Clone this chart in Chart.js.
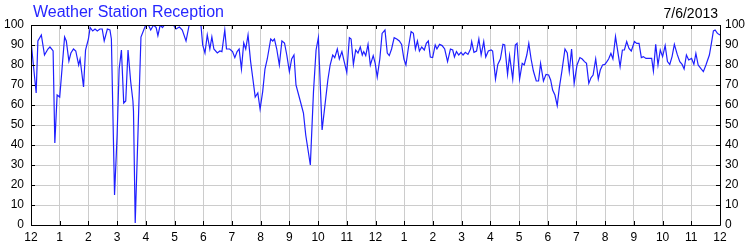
<!DOCTYPE html>
<html>
<head>
<meta charset="utf-8">
<script src="https://cdn.jsdelivr.net/npm/chart.js@4.4.0/dist/chart.umd.min.js"></script>
<style>
  body { margin: 0; background: #fff; }
  canvas { display: block; }
</style>
</head>
<body>
<canvas id="chart" width="750" height="250"></canvas>
<script>
// time of day in hours (0 = midnight)
const hours = [
  0.00, 0.18, 0.24, 0.36, 0.47, 0.59, 0.66, 0.75, 0.77, 0.83, 0.91, 1.00, 1.08, 1.17, 1.23, 1.32, 1.39, 1.48, 1.56, 1.66, 1.71, 1.83, 1.90,
  2.00, 2.06, 2.15, 2.23, 2.31, 2.40, 2.48, 2.55, 2.66, 2.75, 2.80, 2.91, 3.00, 3.07, 3.15, 3.23, 3.30, 3.38, 3.47, 3.55, 3.57, 3.63, 3.83, 3.94,
  4.00, 4.09, 4.17, 4.27, 4.36, 4.42, 4.50, 4.58, 4.65, 4.96, 5.05, 5.17, 5.27, 5.40, 5.51, 5.92, 5.98,
  6.06, 6.14, 6.23, 6.30, 6.37, 6.49, 6.58, 6.65, 6.75, 6.81, 6.92, 7.02, 7.10, 7.18, 7.25, 7.33, 7.41, 7.48, 7.56, 7.65, 7.72, 7.81, 7.90, 7.98,
  8.07, 8.15, 8.23, 8.35, 8.42, 8.48, 8.56, 8.65, 8.74, 8.83, 8.91, 9.00, 9.08, 9.16, 9.23, 9.37, 9.49, 9.57, 9.65, 9.73, 9.84, 9.93,
  10.01, 10.14, 10.24, 10.34, 10.42, 10.51, 10.58, 10.67, 10.74, 10.83, 10.91, 11.00, 11.09, 11.15, 11.23, 11.31, 11.39, 11.47, 11.54, 11.59, 11.66, 11.74, 11.82, 11.92, 11.99,
  12.06, 12.15, 12.23, 12.33, 12.41, 12.48, 12.56, 12.65, 12.74, 12.83, 12.91, 12.99, 13.06, 13.15, 13.24, 13.32, 13.39, 13.46, 13.53, 13.61, 13.70, 13.77, 13.84, 13.91, 13.99,
  14.08, 14.14, 14.23, 14.32, 14.41, 14.51, 14.61, 14.69, 14.75, 14.82, 14.90, 14.98, 15.05, 15.13, 15.22, 15.31, 15.35, 15.43, 15.52, 15.60, 15.68, 15.77, 15.84, 15.93,
  16.03, 16.08, 16.18, 16.26, 16.35, 16.44, 16.50, 16.60, 16.67, 16.78, 16.87, 16.93, 17.02, 17.11, 17.18, 17.27, 17.34, 17.42, 17.50, 17.60, 17.68, 17.75, 17.85, 17.94,
  18.03, 18.10, 18.17, 18.25, 18.33, 18.40, 18.49, 18.60, 18.68, 18.75, 18.83, 18.92, 19.02, 19.12, 19.20, 19.28, 19.35, 19.43, 19.51, 19.58, 19.67, 19.76, 19.83, 19.91, 19.99,
  20.06, 20.12, 20.20, 20.27, 20.36, 20.44, 20.52, 20.60, 20.67, 20.75, 20.83, 20.91, 21.02, 21.10, 21.18, 21.26, 21.33, 21.42, 21.51, 21.62, 21.68, 21.76, 21.84, 21.92,
  22.00, 22.09, 22.17, 22.25, 22.33, 22.41, 22.51, 22.60, 22.68, 22.75, 22.83, 22.91, 23.01, 23.09, 23.16, 23.24, 23.33, 23.42, 23.51, 23.63, 23.71, 23.77, 23.83, 23.91, 24.00
];

// reception in percent
const reception = [
  92, 66, 92, 95, 85, 88, 89, 87.5, 87, 41, 65, 64, 78, 94, 92, 82, 86, 88, 87, 80, 83, 69, 87.5,
  93, 98.7, 97, 98, 97, 98, 98, 92, 98, 97.5, 93, 15, 45, 78, 87.5, 61, 62, 87.5, 72, 62, 57, 1, 94, 98,
  100, 100, 97.5, 100, 98.7, 94.7, 100, 98.7, 100, 100, 98, 99, 97.5, 92, 100, 100, 90,
  86, 95, 88, 94, 88, 86, 87, 86.7, 97.5, 88, 88, 86.7, 83.7, 86.7, 88, 78, 91, 88, 95, 81.7, 74, 64, 66, 58,
  66.7, 78, 83, 93, 92, 93, 88, 80, 92, 91, 85, 76.7, 83, 85, 70, 62.5, 56, 45, 37.5, 30, 66.7, 87.5,
  93.7, 47.5, 60, 72.5, 80, 85, 83.7, 88, 83, 86.7, 81.7, 76.3, 93.7, 93, 80.3, 87.5, 86, 89, 85, 86.7, 84.7, 90.3, 80, 84.7, 80.8,
  74, 83, 95.8, 97.5, 86, 84.7, 88, 93.7, 93, 92, 90.3, 83, 80, 89, 96.7, 95.8, 88, 92, 87, 89, 87.5, 90.8, 92, 84, 83.7,
  90, 88, 90.3, 89.7, 88, 81.7, 88, 87.5, 84, 86.7, 85, 86.3, 85, 86.3, 85.3, 88, 91.7, 86.3, 87, 93, 85, 91.7, 84, 87,
  87.5, 87, 73, 80.3, 83, 90.3, 90, 75.3, 84.7, 73, 90, 90.8, 73, 80.8, 80, 85, 90.8, 83, 77, 72, 72, 80.8, 72, 75.3,
  75, 72.5, 67.5, 65, 59.7, 68.3, 76.7, 88, 86, 76.7, 88, 70.8, 80, 83.7, 83, 81.7, 80.8, 70.8, 73.7, 75, 83, 73, 77.5, 80, 80.3,
  81.7, 83, 85.8, 83, 94.2, 86.7, 79.2, 87.5, 87.5, 91.7, 88.3, 87, 91.7, 90.8, 90.8, 83.7, 84.2, 83.3, 83.3, 83.3, 77, 90.3, 80, 87.5,
  84.2, 89.7, 81.7, 80.3, 84.2, 90.3, 85.3, 81.7, 80.3, 78, 85, 82.5, 83.3, 80.3, 85.8, 80, 78.3, 76.7, 80, 85, 91.7, 97, 97.5, 95.8, 95
];

// x tick labels, one per hour
const hourLabels = ["12","1","2","3","4","5","6","7","8","9","10","11","12","1","2","3","4","5","6","7","8","9","10","11","12"];

const titleText = "Weather Station Reception";
const dateText = "7/6/2013";

const font = { family: "'Liberation Sans', Arial, sans-serif", size: 12 };

// frame, inward ticks and the two header texts
const framePlugin = {
  id: "frame",
  afterDraw(chart) {
    const ctx = chart.ctx;
    const a = chart.chartArea;
    const xs = chart.scales.x;
    const ys = chart.scales.y;
    ctx.save();
    ctx.strokeStyle = "#000";
    ctx.lineWidth = 1;
    ctx.beginPath();
    ctx.rect(Math.round(a.left) + 0.5, Math.round(a.top) + 0.5, Math.round(a.right - a.left), Math.round(a.bottom - a.top));
    for (let h = 0; h <= 24; h++) {
      const px = Math.round(xs.getPixelForValue(h)) + 0.5;
      ctx.moveTo(px, a.bottom);
      ctx.lineTo(px, a.bottom - 4);
      ctx.moveTo(px, a.top);
      ctx.lineTo(px, a.top + 4);
    }
    for (let v = 0; v <= 100; v += 10) {
      const py = Math.round(ys.getPixelForValue(v)) + 0.5;
      ctx.moveTo(a.left, py);
      ctx.lineTo(a.left + 4, py);
      ctx.moveTo(a.right, py);
      ctx.lineTo(a.right - 4, py);
    }
    ctx.stroke();

    ctx.textBaseline = "alphabetic";
    ctx.fillStyle = "#2626ff";
    ctx.font = "16px 'Liberation Sans', Arial, sans-serif";
    ctx.textAlign = "left";
    ctx.fillText(titleText, 33, 17);
    ctx.fillStyle = "#000";
    ctx.font = "14px 'Liberation Sans', Arial, sans-serif";
    ctx.textAlign = "right";
    ctx.fillText(dateText, 718, 18);
    ctx.restore();
  }
};

new Chart(document.getElementById("chart"), {
  type: "line",
  data: {
    datasets: [{
      label: titleText,
      data: hours.map((h, i) => ({ x: h, y: reception[i] })),
      borderColor: "#1f1fff",
      borderWidth: 1.2,
      pointRadius: 0,
      tension: 0,
      fill: false
    }]
  },
  options: {
    responsive: false,
    animation: false,
    devicePixelRatio: 1,
    layout: { padding: { top: 25, left: 0, right: 0, bottom: 0 } },
    plugins: {
      legend: { display: false },
      title: { display: false },
      tooltip: { enabled: false }
    },
    scales: {
      x: {
        type: "linear",
        min: 0,
        max: 24,
        afterFit: (s) => { s.height = 25; },
        ticks: {
          stepSize: 1,
          autoSkip: false,
          maxRotation: 0,
          padding: 5,
          color: "#000",
          font: font,
          callback: (v) => hourLabels[v]
        },
        grid: { color: "#cccccc", drawTicks: false },
        border: { display: false }
      },
      y: {
        position: "left",
        min: 0,
        max: 100,
        afterFit: (s) => { s.width = 31; },
        ticks: { stepSize: 10, padding: 7, color: "#000", font: font },
        grid: { color: "#cccccc", drawTicks: false },
        border: { display: false }
      },
      y2: {
        position: "right",
        min: 0,
        max: 100,
        afterFit: (s) => { s.width = 30; },
        ticks: { stepSize: 10, padding: 5, color: "#000", font: font },
        grid: { display: false, drawTicks: false },
        border: { display: false }
      }
    }
  },
  plugins: [framePlugin]
});
</script>
</body>
</html>
